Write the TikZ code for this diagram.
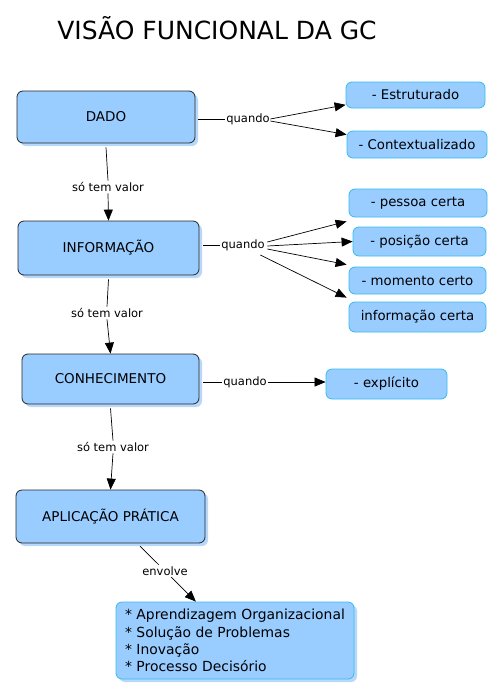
\documentclass[tikz,border=0pt]{standalone}
\usepackage{fontspec}
\setmainfont{DejaVu Sans}
\usetikzlibrary{shadows,arrows.meta,calc}
\definecolor{boxblue}{HTML}{99CCFF}
\definecolor{shadowblue}{HTML}{B8D8FA}
\definecolor{leafborder}{HTML}{33BBEE}
\tikzset{
  mainbox/.style={rectangle, rounded corners=6pt, draw=black!85, line width=0.8pt, fill=boxblue,
    drop shadow={shadow xshift=3pt, shadow yshift=-3pt, fill=shadowblue, opacity=1},
    font=\fontsize{13.5}{16}\selectfont, inner sep=0pt},
  leafbox/.style={rectangle, rounded corners=6pt, draw=leafborder, line width=0.8pt, fill=boxblue,
    font=\fontsize{13.3}{16}\selectfont, inner sep=0pt},
  lbl/.style={font=\fontsize{11.5}{13}\selectfont, inner sep=1.5pt, fill=white},
  conn/.style={line width=0.7pt, draw=black},
  arr/.style={conn, -{Triangle[length=11pt,width=9pt]}}
}
\begin{document}
\begin{tikzpicture}[x=1pt,y=-1pt]
\useasboundingbox (0,0) rectangle (490,686);
\node[font=\fontsize{25}{29}\selectfont, inner sep=0pt] (title) at (217,28) {VISÃO FUNCIONAL DA GC};

% main boxes
\node[mainbox, minimum width=178pt, minimum height=52pt] (dado) at (106,117) {DADO};
\node[mainbox, minimum width=181pt, minimum height=54pt] (info) at (108.5,248) {INFORMAÇÃO};
\node[mainbox, minimum width=177pt, minimum height=50pt] (conh) at (110.5,379) {CONHECIMENTO};
\node[mainbox, minimum width=189pt, minimum height=53pt] (apl) at (110.5,516.5) {APLICAÇÃO PRÁTICA};
\node[leafbox, drop shadow={shadow xshift=3pt, shadow yshift=-3pt, fill=shadowblue, opacity=1},
  minimum width=238pt, minimum height=77pt, align=left, font=\fontsize{13.9}{17.3}\selectfont] (list) at (235,640.5)
  {* Aprendizagem Organizacional\\* Solução de Problemas\\* Inovação\\* Processo Decisório};

% leaf boxes
\node[leafbox, minimum width=139pt, minimum height=26pt] (estr) at (415.5,95) {- Estruturado};
\node[leafbox, minimum width=140pt, minimum height=27pt] (ctx) at (417,144.5) {- Contextualizado};
\node[leafbox, minimum width=138pt, minimum height=28pt] (pess) at (418,203) {- pessoa certa};
\node[leafbox, minimum width=133pt, minimum height=29pt] (posi) at (419.5,241.5) {- posição certa};
\node[leafbox, minimum width=137pt, minimum height=27pt] (mome) at (417.5,280.5) {- momento certo};
\node[leafbox, minimum width=137pt, minimum height=30pt] (infc) at (417.5,317) {informação certa};
\node[leafbox, minimum width=121pt, minimum height=30pt] (expl) at (386.5,384) {- explícito};

% labels
\node[lbl] (q1) at (248,119) {quando};
\node[lbl] (q2) at (243,245) {quando};
\node[lbl] (q3) at (245,382) {quando};
\node[lbl] (s1) at (108,187) {só tem valor};
\node[lbl] (s2) at (107,313) {só tem valor};
\node[lbl] (s3) at (113,447) {só tem valor};
\node[lbl] (env) at (165,571) {envolve};

% DADO
\draw[conn] ([xshift=3pt]dado.east |- q1) -- (q1.west);
\draw[arr] ($(q1.east)+(-1,0)$) -- (estr.188);
\draw[arr] ($(q1.east)+(-1,2)$) -- (ctx.172);
\draw[conn] ([yshift=-4pt]dado.south) -- (s1.north);
\draw[arr] (s1.south) -- (info.north);

% INFORMACAO
\draw[conn] ([xshift=4pt]info.east |- q2) -- (q2.west);
\draw[arr] ($(q2.east)+(1,-3)$) -- ($(pess.south west)+(-2,4)$);
\draw[arr] ($(q2.east)+(1,1)$) -- (posi.west);
\draw[arr] ($(q2.east)+(1,4)$) -- ($(mome.north west)+(-2,-2)$);
\draw[arr] ($(q2.east)+(-6,10)$) -- ($(infc.north west)+(-2,-4)$);
\draw[conn] ([yshift=-4pt]info.south) -- (s2.north);
\draw[arr] (s2.south) -- (conh.north);

% CONHECIMENTO
\draw[conn] ([xshift=4pt]conh.east |- q3) -- (q3.west);
\draw[arr] (q3.east) -- (expl.west |- q3);
\draw[conn] ([yshift=-4pt]conh.south) -- (s3.north);
\draw[arr] (s3.south) -- (apl.north);

% APLICACAO
\draw[conn, shorten <=4pt] (apl) -- (env);
\draw[arr] (env) -- (list);
\end{tikzpicture}
\end{document}
